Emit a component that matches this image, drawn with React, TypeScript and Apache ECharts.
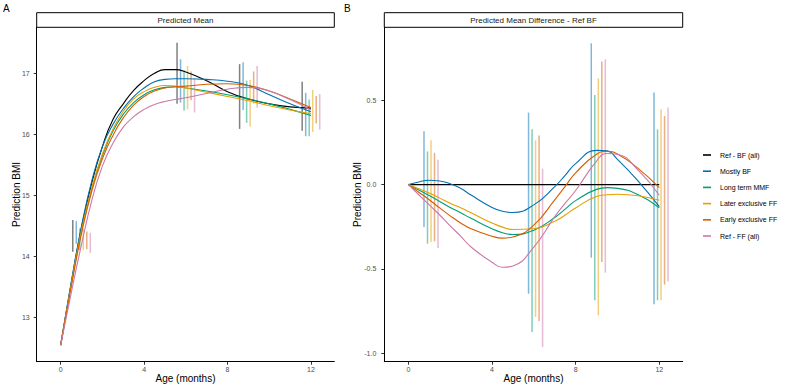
import React, { useEffect, useRef } from "react";
import * as echarts from "echarts";

const FONT = "'Liberation Sans', Arial, Helvetica, sans-serif";

const GROUPS = [
  "Ref - BF (all)",
  "Mostly BF",
  "Long term MMF",
  "Later exclusive FF",
  "Early exclusive FF",
  "Ref - FF (all)",
];
const COLORS = ["#000000", "#0072B2", "#009E73", "#E69F00", "#D55E00", "#CC79A7"];

const X_TICKS = [0, 4, 8, 12];
const MEAN_Y_TICKS = [13, 14, 15, 16, 17];
const DIFF_Y_TICKS = [-1, -0.5, 0, 0.5];

// Panel A: predicted mean curves
const MEAN_AGES = [0, 0.5, 1, 1.5, 2, 2.5, 3, 3.5, 4, 4.5, 5, 5.5, 6, 7, 8, 9, 10, 11, 12];
const MEAN_REF_BF = [12.55, 13.55, 14.48, 15.22, 15.8, 16.24, 16.5, 16.72, 16.88, 17.0, 17.06, 17.06, 17.02, 16.88, 16.7, 16.58, 16.5, 16.45, 16.43];
const MEAN_MOSTLY_BF = [12.55, 13.57, 14.5, 15.25, 15.8, 16.16, 16.42, 16.62, 16.76, 16.86, 16.9, 16.91, 16.91, 16.9, 16.87, 16.8, 16.65, 16.5, 16.37];
const MEAN_LT_MMF = [12.55, 13.52, 14.42, 15.12, 15.65, 16.05, 16.33, 16.52, 16.65, 16.73, 16.77, 16.78, 16.76, 16.71, 16.65, 16.58, 16.5, 16.41, 16.31];
const MEAN_LATER_FF = [12.55, 13.53, 14.43, 15.14, 15.68, 16.08, 16.38, 16.58, 16.7, 16.77, 16.8, 16.79, 16.76, 16.69, 16.62, 16.55, 16.47, 16.4, 16.34];
const MEAN_EARLY_FF = [12.55, 13.5, 14.38, 15.08, 15.6, 15.98, 16.27, 16.48, 16.62, 16.71, 16.76, 16.78, 16.79, 16.82, 16.83, 16.8, 16.71, 16.58, 16.44];
const MEAN_REF_FF = [12.55, 13.4, 14.2, 14.93, 15.48, 15.85, 16.12, 16.29, 16.41, 16.49, 16.54, 16.57, 16.6, 16.67, 16.74, 16.77, 16.71, 16.57, 16.4];
const MEAN_SERIES = [MEAN_REF_BF, MEAN_MOSTLY_BF, MEAN_LT_MMF, MEAN_LATER_FF, MEAN_EARLY_FF, MEAN_REF_FF];

// Panel B: mean difference vs Ref BF
const DIFF_AGES = [0, 0.5, 1, 1.5, 2, 2.5, 3, 4, 4.5, 5, 6, 7, 7.5, 8, 9, 9.5, 10, 11, 12];
const DIFF_REF_BF = [0, 0, 0, 0, 0, 0, 0, 0, 0, 0, 0, 0, 0, 0, 0, 0, 0, 0, 0];
const DIFF_MOSTLY_BF = [0, 0.016, 0.026, 0.022, 0.005, -0.022, -0.062, -0.135, -0.158, -0.165, -0.12, -0.012, 0.055, 0.125, 0.203, 0.2, 0.15, 0.02, -0.13];
const DIFF_LT_MMF = [0, -0.032, -0.065, -0.1, -0.135, -0.167, -0.2, -0.262, -0.285, -0.296, -0.27, -0.195, -0.145, -0.095, -0.028, -0.018, -0.022, -0.06, -0.137];
const DIFF_LATER_FF = [0, -0.025, -0.05, -0.08, -0.11, -0.137, -0.167, -0.228, -0.252, -0.266, -0.262, -0.217, -0.18, -0.138, -0.07, -0.06, -0.057, -0.066, -0.093];
const DIFF_EARLY_FF = [0, -0.045, -0.09, -0.138, -0.185, -0.227, -0.262, -0.306, -0.317, -0.31, -0.24, -0.09, -0.01, 0.07, 0.18, 0.197, 0.182, 0.095, -0.018];
const DIFF_REF_FF = [0, -0.06, -0.12, -0.18, -0.245, -0.305, -0.37, -0.46, -0.49, -0.482, -0.37, -0.19, -0.11, -0.035, 0.14, 0.185, 0.18, 0.085, -0.063];
const DIFF_SERIES = [DIFF_REF_BF, DIFF_MOSTLY_BF, DIFF_LT_MMF, DIFF_LATER_FF, DIFF_EARLY_FF, DIFF_REF_FF];

// Error bars (confidence intervals) at measurement ages
const CI_AGES = [1, 6, 9, 12];
const MEAN_CI_LOW = [
  [14.08, 16.5, 16.09, 16.06],
  [14.21, 16.52, 16.4, 15.97],
  [14.11, 16.39, 16.19, 15.97],
  [14.11, 16.41, 16.13, 16.04],
  [14.12, 16.56, 16.51, 16.18],
  [14.06, 16.36, 16.44, 16.08],
];
const MEAN_CI_HIGH = [
  [14.6, 17.5, 17.15, 16.86],
  [14.58, 17.23, 17.18, 16.68],
  [14.46, 17.05, 16.88, 16.57],
  [14.45, 17.12, 16.89, 16.73],
  [14.41, 17.03, 17.03, 16.63],
  [14.39, 16.92, 17.12, 16.66],
];
const DIFF_CI_LOW = [
  null,
  [-0.251, -0.647, -0.433, -0.71],
  [-0.35, -0.874, -0.686, -0.686],
  [-0.34, -0.785, -0.775, -0.686],
  [-0.336, -0.809, -0.459, -0.593],
  [-0.376, -0.963, -0.522, -0.574],
];
const DIFF_CI_HIGH = [
  null,
  [0.316, 0.427, 0.838, 0.547],
  [0.197, 0.328, 0.531, 0.328],
  [0.263, 0.263, 0.63, 0.447],
  [0.188, 0.292, 0.73, 0.407],
  [0.148, 0.095, 0.743, 0.457],
];

const DODGE_STEP = 0.168;

function ciData(low: (number[] | null)[], high: (number[] | null)[]) {
  const out: number[][] = [];
  for (let g = 0; g < GROUPS.length; g++) {
    const lo = low[g];
    const hi = high[g];
    if (!lo || !hi) continue;
    CI_AGES.forEach((a, k) => {
      out.push([a + (g - 2.5) * DODGE_STEP, lo[k], hi[k], g]);
    });
  }
  return out;
}

function renderBar(params: any, api: any) {
  const x = api.value(0);
  const p1 = api.coord([x, api.value(1)]);
  const p2 = api.coord([x, api.value(2)]);
  const g = api.value(3);
  return {
    type: "line",
    shape: { x1: p1[0], y1: p1[1], x2: p2[0], y2: p2[1] },
    style: { stroke: COLORS[g], lineWidth: 1.5, opacity: 0.5 },
  };
}

const LEFT = { left: 36.7, top: 27.3, width: 297.6, height: 334.4 };
const RIGHT = { left: 384.3, top: 27.3, width: 298.4, height: 334.4 };

function xAxisCfg(gridIndex: number) {
  return {
    type: "value",
    gridIndex,
    min: -1.15,
    max: 13.12,
    name: "Age (months)",
    nameLocation: "middle",
    nameGap: 12,
    nameMoveOverlap: false,
    nameTextStyle: { fontSize: 10, color: "#000", fontFamily: FONT },
    axisLine: { show: true, onZero: false, lineStyle: { color: "#000", width: 1 } },
    axisTick: { show: true, length: 3, customValues: X_TICKS, lineStyle: { color: "#333", width: 1 } },
    axisLabel: { show: true, customValues: X_TICKS, margin: 4, fontSize: 7, color: "#4D4D4D", fontFamily: FONT, formatter: (v: number) => String(v) },
    splitLine: { show: false },
  };
}

function yAxisCfg(gridIndex: number, min: number, max: number, ticks: number[], fmt: (v: number) => string, gap: number, margin: number) {
  return {
    type: "value",
    gridIndex,
    min,
    max,
    name: "Prediction BMI",
    nameLocation: "middle",
    nameGap: gap,
    nameMoveOverlap: false,
    nameTextStyle: { fontSize: 10, color: "#000", fontFamily: FONT },
    axisLine: { show: true, onZero: false, lineStyle: { color: "#000", width: 1 } },
    axisTick: { show: true, length: 3, customValues: ticks, lineStyle: { color: "#333", width: 1 } },
    axisLabel: { show: true, customValues: ticks, margin, fontSize: 7, color: "#4D4D4D", fontFamily: FONT, formatter: fmt },
    splitLine: { show: false },
  };
}

function lineSeries(ages: number[], values: number[][], axisIndex: number) {
  return values.map((vals, g) => ({
    type: "line",
    name: GROUPS[g],
    xAxisIndex: axisIndex,
    yAxisIndex: axisIndex,
    data: ages.map((a, i) => [a, vals[i]]),
    smooth: true,
    symbol: "none",
    showSymbol: false,
    lineStyle: { color: COLORS[g], width: 1.1 },
    itemStyle: { color: COLORS[g] },
    emphasis: { disabled: true },
  }));
}

function strip(grid: any, label: string) {
  return [
    {
      type: "rect",
      shape: { x: grid.left, y: 12.7, width: grid.width, height: 14.6 },
      style: { fill: "#fff", stroke: "#000", lineWidth: 1 },
    },
    {
      type: "text",
      x: grid.left + grid.width / 2,
      y: 20,
      style: { text: label, fontSize: 8, fill: "#1A1A1A", fontFamily: FONT, align: "center", verticalAlign: "middle" },
    },
  ];
}

export default function App() {
  const ref = useRef<HTMLDivElement>(null);
  useEffect(() => {
    const chart = echarts.init(ref.current!, null, { renderer: "svg" });
    const option: any = {
      animation: false,
      backgroundColor: "#fff",
      textStyle: { fontFamily: FONT },
      grid: [
        { ...LEFT, containLabel: false, outerBoundsMode: "none" },
        { ...RIGHT, containLabel: false, outerBoundsMode: "none" },
      ],
      xAxis: [xAxisCfg(0), xAxisCfg(1)],
      yAxis: [
        yAxisCfg(0, 12.28, 17.753, MEAN_Y_TICKS, (v: number) => String(v), 15, 7),
        yAxisCfg(1, -1.05, 0.933, DIFF_Y_TICKS, (v: number) => v.toFixed(1), 22, 8),
      ],
      legend: {
        data: GROUPS.map((n, g) => ({ name: n, itemStyle: { color: COLORS[g] } })),
        orient: "vertical",
        left: 703,
        top: 151,
        padding: 0,
        icon: "rect",
        itemWidth: 8,
        itemHeight: 1.6,
        itemGap: 8.2,
        selectedMode: false,
        textStyle: { fontSize: 7, color: "#000", fontFamily: FONT, lineHeight: 8, padding: [0, 0, 0, 4] },
      },
      graphic: [
        { type: "text", x: 3, y: 3, style: { text: "A", fontSize: 10, fill: "#000", fontFamily: FONT } },
        { type: "text", x: 344, y: 3, style: { text: "B", fontSize: 10, fill: "#000", fontFamily: FONT } },
        ...strip(LEFT, "Predicted Mean"),
        ...strip(RIGHT, "Predicted Mean Difference - Ref BF"),
      ],
      series: [
        {
          type: "custom",
          name: "ci-mean",
          xAxisIndex: 0,
          yAxisIndex: 0,
          renderItem: renderBar,
          encode: { x: 0, y: [1, 2] },
          data: ciData(MEAN_CI_LOW, MEAN_CI_HIGH),
          silent: true,
        },
        {
          type: "custom",
          name: "ci-diff",
          xAxisIndex: 1,
          yAxisIndex: 1,
          renderItem: renderBar,
          encode: { x: 0, y: [1, 2] },
          data: ciData(DIFF_CI_LOW, DIFF_CI_HIGH),
          silent: true,
        },
        ...lineSeries(MEAN_AGES, MEAN_SERIES, 0),
        ...lineSeries(DIFF_AGES, DIFF_SERIES, 1),
      ],
    };
    chart.setOption(option);
    return () => chart.dispose();
  }, []);
  return <div ref={ref} style={{ position: "absolute", left: 0, top: 0, width: 789, height: 388 }} />;
}
